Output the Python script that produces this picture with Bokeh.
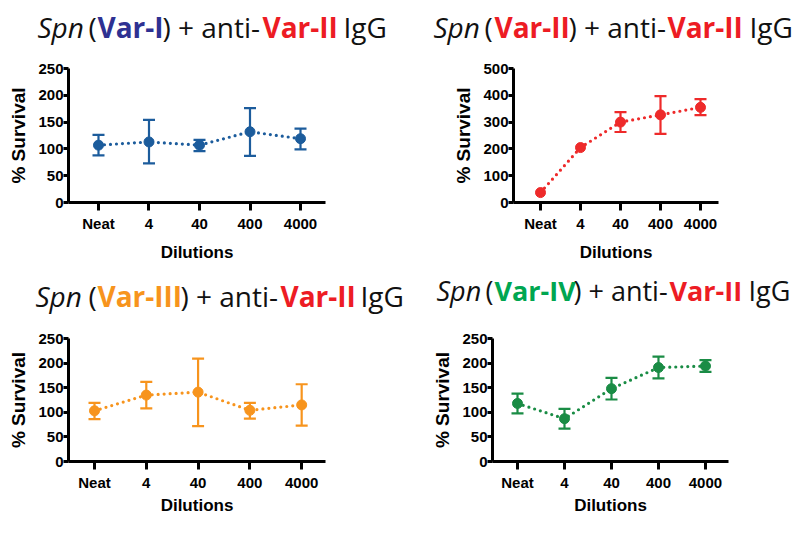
from bokeh.plotting import figure
from bokeh.models import ColumnDataSource, Range1d, FixedTicker, Whisker, TeeHead
from bokeh.core.properties import value
from bokeh.layouts import column, row
from bokeh.embed import file_html
from bokeh.resources import INLINE

# ---------------- data ----------------
dilutions = ["Neat", "4", "40", "400", "4000"]

var1_mean = [107, 113, 107, 132, 119]
var1_upper = [126, 154, 117, 176, 138]
var1_lower = [88, 73, 96, 87, 99]

var2_mean = [37, 205, 300, 327, 355]
var2_upper = [None, None, 337, 397, 386]
var2_lower = [None, None, 263, 256, 326]

var3_mean = [103, 135, 141, 104, 115]
var3_upper = [119, 162, 209, 119, 157]
var3_lower = [86, 108, 72, 87, 73]

var4_mean = [118, 87, 148, 191, 194]
var4_upper = [138, 107, 170, 213, 206]
var4_lower = [98, 67, 126, 169, 182]

y_max = [250, 500, 250, 250]
y_step = [50, 100, 50, 50]

variants = ["Var-I", "Var-II", "Var-III", "Var-IV"]

BLACK = "#111111"
RED_T = "#ED1C24"
TITLE_COLORS = ["#2E3192", RED_T, "#F7941D", "#00A651"]
DATA_COLORS = ["#1C5C9C", "#EE2A2A", "#F7941D", "#1A8C45"]

AX_FONT = "Liberation Sans"
TITLE_FONT = "Open Sans"

FULL_W = 794
FIG_W = 397
# vertical stack: strip A (0-48), panels B (48-270), strip C (270-322), panels D (322-517)
STRIP_H = [48, 52]
PANEL_H = [222, 195]

panels = [
    dict(h=PANEL_H[0], l=68, r=325, t=18, b=154, xs=-0.594, xe=4.495, ls=8),
    dict(h=PANEL_H[0], l=116, r=321, t=20, b=154, xs=-0.675, xe=4.45, ls=8),
    dict(h=PANEL_H[1], l=68, r=325, t=10, b=140, xs=-0.502, xe=4.46, ls=2),
    dict(h=PANEL_H[1], l=95, r=331, t=16, b=139, xs=-0.532, xe=4.49, ls=2),
]

# title segment x positions (px), font size and requested baselines within each strip
title_x = [
    [37, 88, 97, 162, 262, 343],
    [433, 484, 494, 568, 667, 749],
    [35, 88, 97, 180, 280, 360],
    [436, 485, 494, 573, 669, 748],
]
title_size = ["28px", "28px", "28px", "27px"]
title_base = [26, 26, 25, 20]

series = [
    (var1_mean, var1_upper, var1_lower),
    (var2_mean, var2_upper, var2_lower),
    (var3_mean, var3_upper, var3_lower),
    (var4_mean, var4_upper, var4_lower),
]


def make_panel(i):
    cfg = panels[i]
    mean, upper, lower = series[i]
    p = figure(width=FIG_W, height=cfg["h"], output_backend="svg", toolbar_location=None,
               title=None,
               x_range=Range1d(cfg["xs"], cfg["xe"]), y_range=Range1d(0, y_max[i]),
               min_border_left=cfg["l"], min_border_right=FIG_W - cfg["r"],
               min_border_top=cfg["t"], min_border_bottom=cfg["h"] - cfg["b"],
               background_fill_color="white", border_fill_color="white")
    p.outline_line_color = None
    p.xgrid.visible = False
    p.ygrid.visible = False

    xs = list(range(len(dilutions)))
    p.xaxis.ticker = FixedTicker(ticks=xs)
    p.xaxis.major_label_overrides = {k: v for k, v in zip(xs, dilutions)}
    p.yaxis.ticker = FixedTicker(ticks=list(range(0, y_max[i] + 1, y_step[i])))
    p.xaxis.axis_label = "Dilutions"
    p.yaxis.axis_label = "% Survival"
    for ax in (p.xaxis[0], p.yaxis[0]):
        ax.axis_line_width = 3
        ax.axis_line_color = "black"
        ax.major_tick_line_width = 3
        ax.major_tick_line_color = "black"
        ax.major_tick_in = 0
        ax.minor_tick_line_color = None
        ax.major_label_text_font = AX_FONT
        ax.major_label_text_font_style = "bold"
        ax.major_label_text_font_size = "15px"
        ax.major_label_text_color = "black"
        ax.axis_label_text_font = AX_FONT
        ax.axis_label_text_font_style = "bold"
        ax.axis_label_text_color = "black"
    p.xaxis.axis_label_text_font_size = "17px"
    p.yaxis.axis_label_text_font_size = "19px"
    p.xaxis.major_tick_out = 8
    p.xaxis.major_label_standoff = 4
    p.xaxis.axis_label_standoff = cfg["ls"]
    p.yaxis.major_tick_out = 5
    p.yaxis.major_label_standoff = 0
    p.yaxis.axis_label_standoff = 6

    col = DATA_COLORS[i]
    src = ColumnDataSource(dict(x=xs, y=mean))
    p.line("x", "y", source=src, line_color=col, line_width=3.2, line_dash="0 6",
           line_cap="round")
    ex = [x for x, u in zip(xs, upper) if u is not None]
    eu = [u for u in upper if u is not None]
    el = [l for l in lower if l is not None]
    esrc = ColumnDataSource(dict(x=ex, upper=eu, lower=el))
    w = Whisker(base="x", upper="upper", lower="lower", source=esrc,
                line_color=col, line_width=2.2,
                upper_head=TeeHead(size=12, line_width=2.2, line_color=col),
                lower_head=TeeHead(size=12, line_width=2.2, line_color=col))
    p.add_layout(w)
    p.scatter("x", "y", source=src, size=10, fill_color=col, line_color=col)
    return p


def make_strip(k, pair):
    h = STRIP_H[k]
    t = figure(width=FULL_W, height=h, output_backend="svg", toolbar_location=None,
               title=None, x_axis_type=None, y_axis_type=None,
               x_range=Range1d(0, FULL_W), y_range=Range1d(h, 0),
               min_border=0, background_fill_color="white", border_fill_color="white")
    t.outline_line_color = None
    t.xgrid.visible = False
    t.ygrid.visible = False
    for i in pair:
        texts = ["Spn", "(", variants[i], ") + anti-", "Var-II", "IgG"]
        styles = ["italic", "normal", "bold", "normal", "bold", "normal"]
        colors = [BLACK, BLACK, TITLE_COLORS[i], BLACK, RED_T, BLACK]
        for txt, tx, st, c in zip(texts, title_x[i], styles, colors):
            t.text(x=[tx], y=[title_base[i]], text=[txt],
                   text_font=value(TITLE_FONT), text_font_style=value(st),
                   text_font_size=value(title_size[i]),
                   text_color=c,
                   text_align=value("left"), text_baseline=value("alphabetic"))
    return t


figs = [make_panel(i) for i in range(4)]
layout = column(make_strip(0, [0, 1]),
                row(figs[0], figs[1]),
                make_strip(1, [2, 3]),
                row(figs[2], figs[3]))

open("out.html", "w").write(file_html(layout, INLINE))
